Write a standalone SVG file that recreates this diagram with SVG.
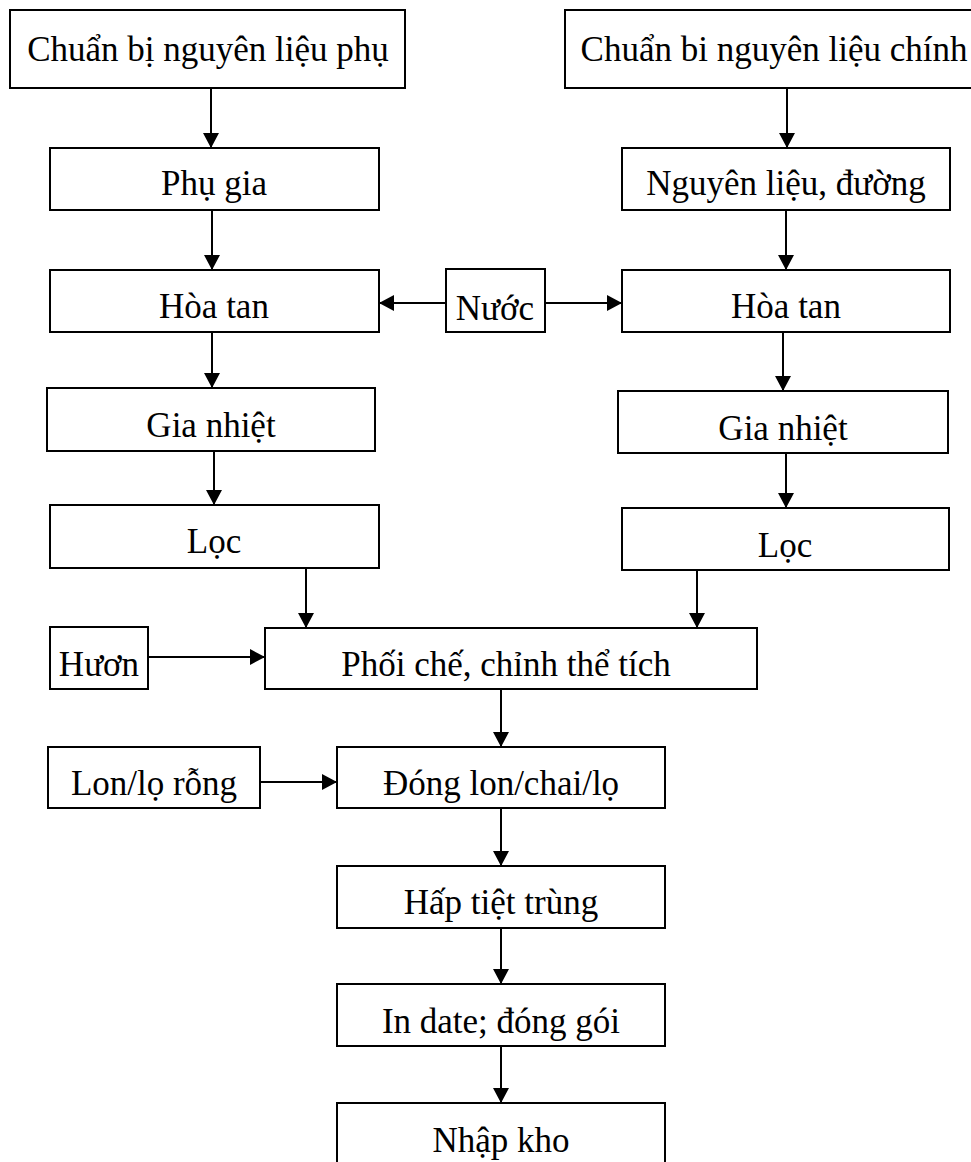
<svg xmlns="http://www.w3.org/2000/svg" width="971" height="1162" viewBox="0 0 971 1162">
<style>
.box{fill:#fff;stroke:#000;stroke-width:2}
.t{font-family:"Liberation Serif","Times New Roman",serif;font-size:35px;fill:#000;text-anchor:middle}
.c{stroke:#000;stroke-width:2;fill:none;marker-end:url(#ah)}
</style>
<defs>
<marker id="ah" markerUnits="userSpaceOnUse" markerWidth="18" markerHeight="18" refX="15" refY="8" orient="auto">
<path d="M0,0 L15,8 L0,16 z" fill="#000"/>
</marker>
</defs>
<rect width="971" height="1162" fill="#fff"/>
<g id="connectors">
<line class="c" x1="211" y1="88" x2="211" y2="148"/>
<line class="c" x1="787" y1="88" x2="787" y2="148"/>
<line class="c" x1="212" y1="210" x2="212" y2="270"/>
<line class="c" x1="786" y1="210" x2="786" y2="270"/>
<line class="c" x1="446" y1="303" x2="379" y2="303"/>
<line class="c" x1="545" y1="303" x2="622" y2="303"/>
<line class="c" x1="212" y1="332" x2="212" y2="388"/>
<line class="c" x1="783" y1="332" x2="783" y2="391"/>
<line class="c" x1="214" y1="451" x2="214" y2="505"/>
<line class="c" x1="786" y1="453" x2="786" y2="508"/>
<line class="c" x1="306" y1="568" x2="306" y2="628"/>
<line class="c" x1="697" y1="570" x2="697" y2="628"/>
<line class="c" x1="148" y1="657" x2="265" y2="657"/>
<line class="c" x1="501" y1="689" x2="501" y2="747"/>
<line class="c" x1="260" y1="782" x2="337" y2="782"/>
<line class="c" x1="501" y1="808" x2="501" y2="866"/>
<line class="c" x1="501" y1="928" x2="501" y2="984"/>
<line class="c" x1="501" y1="1046" x2="501" y2="1103"/>
</g>
<g id="n1"><rect class="box" x="10" y="10" width="395" height="78"/><text class="t" x="208" y="61">Chuẩn bị nguyên liệu phụ</text></g>
<g id="n2"><rect class="box" x="565" y="10" width="420" height="78"/><text class="t" x="774" y="61">Chuẩn bi nguyên liệu chính</text></g>
<g id="n3"><rect class="box" x="50" y="148" width="329" height="62"/><text class="t" x="214" y="195">Phụ gia</text></g>
<g id="n4"><rect class="box" x="622" y="148" width="328" height="62"/><text class="t" x="786" y="195">Nguyên liệu, đường</text></g>
<g id="n5"><rect class="box" x="50" y="270" width="329" height="62"/><text class="t" x="214" y="318">Hòa tan</text></g>
<g id="n6"><rect class="box" x="446" y="269" width="99" height="63"/><text class="t" x="495" y="320">Nước</text></g>
<g id="n7"><rect class="box" x="622" y="270" width="328" height="62"/><text class="t" x="786" y="318">Hòa tan</text></g>
<g id="n8"><rect class="box" x="47" y="388" width="328" height="63"/><text class="t" x="211" y="437">Gia nhiệt</text></g>
<g id="n9"><rect class="box" x="618" y="391" width="330" height="62"/><text class="t" x="783" y="440">Gia nhiệt</text></g>
<g id="n10"><rect class="box" x="50" y="505" width="329" height="63"/><text class="t" x="214" y="553">Lọc</text></g>
<g id="n11"><rect class="box" x="622" y="508" width="327" height="62"/><text class="t" x="785" y="557">Lọc</text></g>
<g id="n12"><rect class="box" x="50" y="627" width="98" height="62"/><text class="t" x="99" y="676">Hươn</text></g>
<g id="n13"><rect class="box" x="265" y="628" width="492" height="61"/><text class="t" x="506" y="676">Phối chế, chỉnh thể tích</text></g>
<g id="n14"><rect class="box" x="48" y="747" width="212" height="61"/><text class="t" x="154" y="795">Lon/lọ rỗng</text></g>
<g id="n15"><rect class="box" x="337" y="747" width="328" height="61"/><text class="t" x="501" y="795">Đóng lon/chai/lọ</text></g>
<g id="n16"><rect class="box" x="337" y="866" width="328" height="62"/><text class="t" x="501" y="914">Hấp tiệt trùng</text></g>
<g id="n17"><rect class="box" x="337" y="984" width="328" height="62"/><text class="t" x="501" y="1033">In date; đóng gói</text></g>
<g id="n18"><rect class="box" x="337" y="1103" width="328" height="70"/><text class="t" x="501" y="1152">Nhập kho</text></g>
</svg>
